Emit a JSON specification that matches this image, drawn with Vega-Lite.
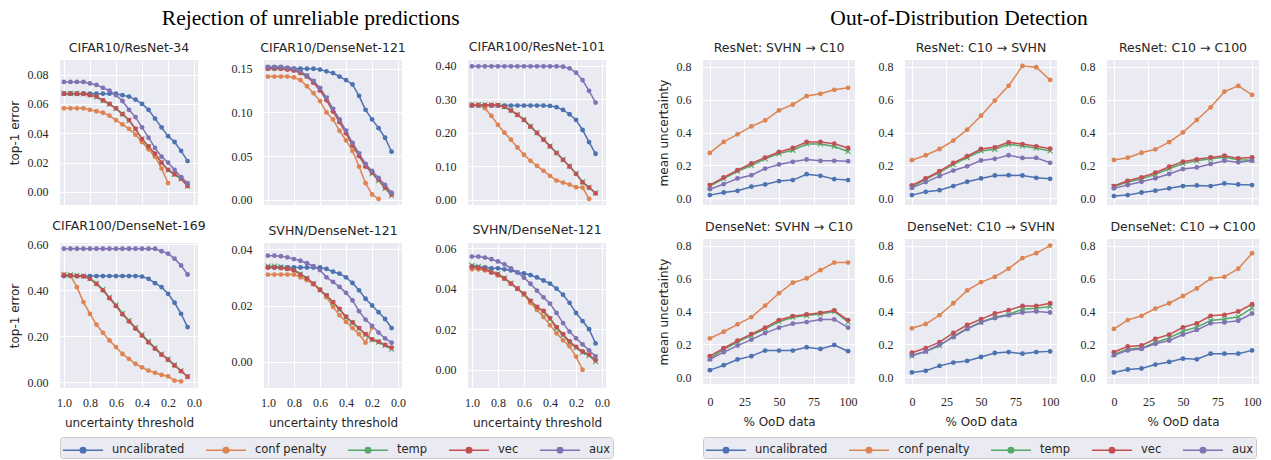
{
"$schema": "https://vega.github.io/schema/vega-lite/v6.json",
"background": "white",
"padding": {"left": 8, "top": 7, "right": 8, "bottom": 1},
"datasets": {
"rej": [
{"p":1,"x":1,"uncalibrated":0.067,"conf penalty":0.057,"temp":0.0672,"vec":0.067,"aux":0.075},
{"p":1,"x":0.95,"uncalibrated":0.067,"conf penalty":0.057,"temp":0.0672,"vec":0.067,"aux":0.075},
{"p":1,"x":0.9,"uncalibrated":0.067,"conf penalty":0.057,"temp":0.0671,"vec":0.067,"aux":0.075},
{"p":1,"x":0.85,"uncalibrated":0.067,"conf penalty":0.057,"temp":0.0668,"vec":0.067,"aux":0.075},
{"p":1,"x":0.8,"uncalibrated":0.067,"conf penalty":0.056,"temp":0.0662,"vec":0.066,"aux":0.074},
{"p":1,"x":0.75,"uncalibrated":0.067,"conf penalty":0.055,"temp":0.0648,"vec":0.065,"aux":0.073},
{"p":1,"x":0.7,"uncalibrated":0.067,"conf penalty":0.054,"temp":0.0622,"vec":0.0625,"aux":0.071},
{"p":1,"x":0.65,"uncalibrated":0.067,"conf penalty":0.052,"temp":0.0598,"vec":0.06,"aux":0.069},
{"p":1,"x":0.6,"uncalibrated":0.067,"conf penalty":0.049,"temp":0.0568,"vec":0.057,"aux":0.066},
{"p":1,"x":0.55,"uncalibrated":0.066,"conf penalty":0.046,"temp":0.0532,"vec":0.053,"aux":0.062},
{"p":1,"x":0.5,"uncalibrated":0.065,"conf penalty":0.043,"temp":0.0488,"vec":0.049,"aux":0.056},
{"p":1,"x":0.45,"uncalibrated":0.063,"conf penalty":0.039,"temp":0.0428,"vec":0.043,"aux":0.051},
{"p":1,"x":0.4,"uncalibrated":0.06,"conf penalty":0.034,"temp":0.0362,"vec":0.036,"aux":0.044},
{"p":1,"x":0.35,"uncalibrated":0.056,"conf penalty":0.029,"temp":0.0308,"vec":0.031,"aux":0.037},
{"p":1,"x":0.3,"uncalibrated":0.05,"conf penalty":0.024,"temp":0.0258,"vec":0.026,"aux":0.03},
{"p":1,"x":0.25,"uncalibrated":0.044,"conf penalty":0.016,"temp":0.0198,"vec":0.02,"aux":0.024},
{"p":1,"x":0.2,"uncalibrated":0.038,"conf penalty":0.006,"temp":0.0148,"vec":0.015,"aux":0.02},
{"p":1,"x":0.15,"uncalibrated":0.034,"conf penalty":null,"temp":0.0118,"vec":0.012,"aux":0.015},
{"p":1,"x":0.1,"uncalibrated":0.028,"conf penalty":null,"temp":0.0088,"vec":0.009,"aux":0.01},
{"p":1,"x":0.05,"uncalibrated":0.021,"conf penalty":null,"temp":0.0038,"vec":0.004,"aux":0.006},
{"p":2,"x":1,"uncalibrated":0.151,"conf penalty":0.141,"temp":0.151,"vec":0.15,"aux":0.152},
{"p":2,"x":0.95,"uncalibrated":0.151,"conf penalty":0.141,"temp":0.151,"vec":0.15,"aux":0.152},
{"p":2,"x":0.9,"uncalibrated":0.151,"conf penalty":0.141,"temp":0.151,"vec":0.15,"aux":0.152},
{"p":2,"x":0.85,"uncalibrated":0.151,"conf penalty":0.141,"temp":0.15,"vec":0.149,"aux":0.151},
{"p":2,"x":0.8,"uncalibrated":0.15,"conf penalty":0.14,"temp":0.149,"vec":0.148,"aux":0.15},
{"p":2,"x":0.75,"uncalibrated":0.15,"conf penalty":0.137,"temp":0.146,"vec":0.145,"aux":0.147},
{"p":2,"x":0.7,"uncalibrated":0.15,"conf penalty":0.13,"temp":0.142,"vec":0.141,"aux":0.142},
{"p":2,"x":0.65,"uncalibrated":0.15,"conf penalty":0.122,"temp":0.135,"vec":0.134,"aux":0.136},
{"p":2,"x":0.6,"uncalibrated":0.149,"conf penalty":0.113,"temp":0.126,"vec":0.125,"aux":0.128},
{"p":2,"x":0.55,"uncalibrated":0.147,"conf penalty":0.1,"temp":0.116,"vec":0.114,"aux":0.117},
{"p":2,"x":0.5,"uncalibrated":0.145,"conf penalty":0.092,"temp":0.103,"vec":0.101,"aux":0.104},
{"p":2,"x":0.45,"uncalibrated":0.141,"conf penalty":0.079,"temp":0.09,"vec":0.089,"aux":0.092},
{"p":2,"x":0.4,"uncalibrated":0.137,"conf penalty":0.068,"temp":0.078,"vec":0.076,"aux":0.079},
{"p":2,"x":0.35,"uncalibrated":0.132,"conf penalty":0.056,"temp":0.063,"vec":0.062,"aux":0.065},
{"p":2,"x":0.3,"uncalibrated":0.119,"conf penalty":0.038,"temp":0.052,"vec":0.05,"aux":0.053},
{"p":2,"x":0.25,"uncalibrated":0.103,"conf penalty":0.019,"temp":0.039,"vec":0.038,"aux":0.041},
{"p":2,"x":0.2,"uncalibrated":0.092,"conf penalty":0.006,"temp":0.03,"vec":0.031,"aux":0.033},
{"p":2,"x":0.15,"uncalibrated":0.082,"conf penalty":0.001,"temp":0.022,"vec":0.023,"aux":0.025},
{"p":2,"x":0.1,"uncalibrated":0.071,"conf penalty":null,"temp":0.013,"vec":0.014,"aux":0.017},
{"p":2,"x":0.05,"uncalibrated":0.055,"conf penalty":null,"temp":0.005,"vec":0.006,"aux":0.008},
{"p":3,"x":1,"uncalibrated":0.281,"conf penalty":0.283,"temp":0.283,"vec":0.282,"aux":0.398},
{"p":3,"x":0.95,"uncalibrated":0.281,"conf penalty":0.283,"temp":0.283,"vec":0.282,"aux":0.398},
{"p":3,"x":0.9,"uncalibrated":0.281,"conf penalty":0.273,"temp":0.283,"vec":0.282,"aux":0.398},
{"p":3,"x":0.85,"uncalibrated":0.281,"conf penalty":0.25,"temp":0.283,"vec":0.282,"aux":0.398},
{"p":3,"x":0.8,"uncalibrated":0.281,"conf penalty":0.223,"temp":0.282,"vec":0.282,"aux":0.398},
{"p":3,"x":0.75,"uncalibrated":0.281,"conf penalty":0.2,"temp":0.278,"vec":0.277,"aux":0.398},
{"p":3,"x":0.7,"uncalibrated":0.281,"conf penalty":0.179,"temp":0.267,"vec":0.266,"aux":0.398},
{"p":3,"x":0.65,"uncalibrated":0.281,"conf penalty":0.156,"temp":0.254,"vec":0.253,"aux":0.398},
{"p":3,"x":0.6,"uncalibrated":0.281,"conf penalty":0.134,"temp":0.239,"vec":0.238,"aux":0.398},
{"p":3,"x":0.55,"uncalibrated":0.281,"conf penalty":0.116,"temp":0.219,"vec":0.218,"aux":0.398},
{"p":3,"x":0.5,"uncalibrated":0.281,"conf penalty":0.101,"temp":0.2,"vec":0.199,"aux":0.398},
{"p":3,"x":0.45,"uncalibrated":0.281,"conf penalty":0.086,"temp":0.18,"vec":0.179,"aux":0.398},
{"p":3,"x":0.4,"uncalibrated":0.28,"conf penalty":0.071,"temp":0.16,"vec":0.159,"aux":0.398},
{"p":3,"x":0.35,"uncalibrated":0.276,"conf penalty":0.057,"temp":0.14,"vec":0.139,"aux":0.398},
{"p":3,"x":0.3,"uncalibrated":0.268,"conf penalty":0.051,"temp":0.12,"vec":0.119,"aux":0.397},
{"p":3,"x":0.25,"uncalibrated":0.255,"conf penalty":0.045,"temp":0.1,"vec":0.099,"aux":0.392},
{"p":3,"x":0.2,"uncalibrated":0.238,"conf penalty":0.037,"temp":0.078,"vec":0.077,"aux":0.379},
{"p":3,"x":0.15,"uncalibrated":0.208,"conf penalty":0.036,"temp":0.053,"vec":0.052,"aux":0.357},
{"p":3,"x":0.1,"uncalibrated":0.172,"conf penalty":0.002,"temp":0.037,"vec":0.036,"aux":0.325},
{"p":3,"x":0.05,"uncalibrated":0.137,"conf penalty":null,"temp":0.02,"vec":0.019,"aux":0.29},
{"p":4,"x":1,"uncalibrated":0.462,"conf penalty":0.468,"temp":0.468,"vec":0.465,"aux":0.581},
{"p":4,"x":0.95,"uncalibrated":0.462,"conf penalty":0.465,"temp":0.467,"vec":0.465,"aux":0.581},
{"p":4,"x":0.9,"uncalibrated":0.462,"conf penalty":0.414,"temp":0.464,"vec":0.462,"aux":0.581},
{"p":4,"x":0.85,"uncalibrated":0.462,"conf penalty":0.349,"temp":0.462,"vec":0.461,"aux":0.581},
{"p":4,"x":0.8,"uncalibrated":0.462,"conf penalty":0.298,"temp":0.452,"vec":0.45,"aux":0.581},
{"p":4,"x":0.75,"uncalibrated":0.462,"conf penalty":0.251,"temp":0.431,"vec":0.428,"aux":0.581},
{"p":4,"x":0.7,"uncalibrated":0.462,"conf penalty":0.215,"temp":0.404,"vec":0.4,"aux":0.581},
{"p":4,"x":0.65,"uncalibrated":0.462,"conf penalty":0.182,"temp":0.37,"vec":0.366,"aux":0.581},
{"p":4,"x":0.6,"uncalibrated":0.462,"conf penalty":0.153,"temp":0.336,"vec":0.332,"aux":0.581},
{"p":4,"x":0.55,"uncalibrated":0.462,"conf penalty":0.123,"temp":0.3,"vec":0.296,"aux":0.581},
{"p":4,"x":0.5,"uncalibrated":0.462,"conf penalty":0.102,"temp":0.269,"vec":0.265,"aux":0.581},
{"p":4,"x":0.45,"uncalibrated":0.462,"conf penalty":0.08,"temp":0.238,"vec":0.234,"aux":0.581},
{"p":4,"x":0.4,"uncalibrated":0.46,"conf penalty":0.065,"temp":0.207,"vec":0.203,"aux":0.581},
{"p":4,"x":0.35,"uncalibrated":0.45,"conf penalty":0.051,"temp":0.178,"vec":0.174,"aux":0.581},
{"p":4,"x":0.3,"uncalibrated":0.431,"conf penalty":0.041,"temp":0.15,"vec":0.146,"aux":0.581},
{"p":4,"x":0.25,"uncalibrated":0.414,"conf penalty":0.032,"temp":0.123,"vec":0.12,"aux":0.57},
{"p":4,"x":0.2,"uncalibrated":0.385,"conf penalty":0.026,"temp":0.101,"vec":0.098,"aux":0.56},
{"p":4,"x":0.15,"uncalibrated":0.346,"conf penalty":0.007,"temp":0.076,"vec":0.073,"aux":0.538},
{"p":4,"x":0.1,"uncalibrated":0.298,"conf penalty":0.004,"temp":0.05,"vec":0.048,"aux":0.508},
{"p":4,"x":0.05,"uncalibrated":0.24,"conf penalty":null,"temp":0.025,"vec":0.024,"aux":0.469},
{"p":5,"x":1,"uncalibrated":0.0335,"conf penalty":0.031,"temp":0.034,"vec":0.0335,"aux":0.0377},
{"p":5,"x":0.95,"uncalibrated":0.0335,"conf penalty":0.031,"temp":0.034,"vec":0.0335,"aux":0.0377},
{"p":5,"x":0.9,"uncalibrated":0.0335,"conf penalty":0.031,"temp":0.0337,"vec":0.0333,"aux":0.0375},
{"p":5,"x":0.85,"uncalibrated":0.0335,"conf penalty":0.031,"temp":0.0333,"vec":0.033,"aux":0.0371},
{"p":5,"x":0.8,"uncalibrated":0.0335,"conf penalty":0.031,"temp":0.0327,"vec":0.0325,"aux":0.0365},
{"p":5,"x":0.75,"uncalibrated":0.0335,"conf penalty":0.03,"temp":0.0312,"vec":0.031,"aux":0.0359},
{"p":5,"x":0.7,"uncalibrated":0.0335,"conf penalty":0.029,"temp":0.0297,"vec":0.0296,"aux":0.035},
{"p":5,"x":0.65,"uncalibrated":0.0335,"conf penalty":0.0275,"temp":0.0278,"vec":0.0278,"aux":0.034},
{"p":5,"x":0.6,"uncalibrated":0.0335,"conf penalty":0.0255,"temp":0.0255,"vec":0.0256,"aux":0.0326},
{"p":5,"x":0.55,"uncalibrated":0.033,"conf penalty":0.023,"temp":0.0234,"vec":0.0236,"aux":0.03},
{"p":5,"x":0.5,"uncalibrated":0.032,"conf penalty":0.0195,"temp":0.021,"vec":0.0212,"aux":0.0284},
{"p":5,"x":0.45,"uncalibrated":0.0313,"conf penalty":0.0165,"temp":0.0185,"vec":0.0188,"aux":0.0266},
{"p":5,"x":0.4,"uncalibrated":0.03,"conf penalty":0.0142,"temp":0.0158,"vec":0.016,"aux":0.0245},
{"p":5,"x":0.35,"uncalibrated":0.028,"conf penalty":0.012,"temp":0.0138,"vec":0.014,"aux":0.0218},
{"p":5,"x":0.3,"uncalibrated":0.0254,"conf penalty":0.0098,"temp":0.0118,"vec":0.012,"aux":0.018},
{"p":5,"x":0.25,"uncalibrated":0.0224,"conf penalty":0.0068,"temp":0.0096,"vec":0.0098,"aux":0.015},
{"p":5,"x":0.2,"uncalibrated":0.02,"conf penalty":0.0122,"temp":0.0078,"vec":0.008,"aux":0.0128},
{"p":5,"x":0.15,"uncalibrated":0.0176,"conf penalty":null,"temp":0.007,"vec":0.0072,"aux":0.0104},
{"p":5,"x":0.1,"uncalibrated":0.0152,"conf penalty":null,"temp":0.0058,"vec":0.006,"aux":0.0083},
{"p":5,"x":0.05,"uncalibrated":0.012,"conf penalty":null,"temp":0.0045,"vec":0.005,"aux":0.0068},
{"p":6,"x":1,"uncalibrated":0.051,"conf penalty":0.0495,"temp":0.0515,"vec":0.0507,"aux":0.0558},
{"p":6,"x":0.95,"uncalibrated":0.0505,"conf penalty":0.0495,"temp":0.051,"vec":0.0503,"aux":0.0558},
{"p":6,"x":0.9,"uncalibrated":0.0505,"conf penalty":0.049,"temp":0.05,"vec":0.0495,"aux":0.0553},
{"p":6,"x":0.85,"uncalibrated":0.05,"conf penalty":0.048,"temp":0.0485,"vec":0.048,"aux":0.0545},
{"p":6,"x":0.8,"uncalibrated":0.05,"conf penalty":0.0465,"temp":0.0473,"vec":0.047,"aux":0.0534},
{"p":6,"x":0.75,"uncalibrated":0.0495,"conf penalty":0.045,"temp":0.0452,"vec":0.045,"aux":0.052},
{"p":6,"x":0.7,"uncalibrated":0.049,"conf penalty":0.0425,"temp":0.0427,"vec":0.0425,"aux":0.05},
{"p":6,"x":0.65,"uncalibrated":0.048,"conf penalty":0.04,"temp":0.04,"vec":0.04,"aux":0.048},
{"p":6,"x":0.6,"uncalibrated":0.0475,"conf penalty":0.037,"temp":0.0373,"vec":0.0375,"aux":0.0454},
{"p":6,"x":0.55,"uncalibrated":0.0467,"conf penalty":0.033,"temp":0.0338,"vec":0.034,"aux":0.0424},
{"p":6,"x":0.5,"uncalibrated":0.0455,"conf penalty":0.0295,"temp":0.0308,"vec":0.031,"aux":0.039},
{"p":6,"x":0.45,"uncalibrated":0.044,"conf penalty":0.026,"temp":0.0285,"vec":0.029,"aux":0.0357},
{"p":6,"x":0.4,"uncalibrated":0.0425,"conf penalty":0.022,"temp":0.025,"vec":0.0255,"aux":0.0326},
{"p":6,"x":0.35,"uncalibrated":0.04,"conf penalty":0.018,"temp":0.0205,"vec":0.021,"aux":0.028},
{"p":6,"x":0.3,"uncalibrated":0.037,"conf penalty":0.0145,"temp":0.017,"vec":0.0175,"aux":0.023},
{"p":6,"x":0.25,"uncalibrated":0.033,"conf penalty":0.0115,"temp":0.0135,"vec":0.014,"aux":0.0188},
{"p":6,"x":0.2,"uncalibrated":0.028,"conf penalty":0.0065,"temp":0.0108,"vec":0.0113,"aux":0.0155},
{"p":6,"x":0.15,"uncalibrated":0.024,"conf penalty":0.0,"temp":0.0085,"vec":0.009,"aux":0.0125},
{"p":6,"x":0.1,"uncalibrated":0.02,"conf penalty":null,"temp":0.007,"vec":0.0075,"aux":0.0096},
{"p":6,"x":0.05,"uncalibrated":0.013,"conf penalty":null,"temp":0.004,"vec":0.0047,"aux":0.0066}
],
"ood": [
{"p":1,"x":0,"uncalibrated":0.02,"conf penalty":0.276,"temp":0.075,"vec":0.081,"aux":0.056},
{"p":1,"x":10,"uncalibrated":0.036,"conf penalty":0.343,"temp":0.12,"vec":0.127,"aux":0.087},
{"p":1,"x":20,"uncalibrated":0.046,"conf penalty":0.389,"temp":0.165,"vec":0.171,"aux":0.121},
{"p":1,"x":30,"uncalibrated":0.071,"conf penalty":0.437,"temp":0.2,"vec":0.212,"aux":0.141},
{"p":1,"x":40,"uncalibrated":0.085,"conf penalty":0.474,"temp":0.24,"vec":0.248,"aux":0.181},
{"p":1,"x":50,"uncalibrated":0.105,"conf penalty":0.534,"temp":0.272,"vec":0.282,"aux":0.206},
{"p":1,"x":60,"uncalibrated":0.111,"conf penalty":0.57,"temp":0.292,"vec":0.306,"aux":0.222},
{"p":1,"x":70,"uncalibrated":0.147,"conf penalty":0.621,"temp":0.33,"vec":0.343,"aux":0.236},
{"p":1,"x":80,"uncalibrated":0.137,"conf penalty":0.635,"temp":0.33,"vec":0.343,"aux":0.228},
{"p":1,"x":90,"uncalibrated":0.117,"conf penalty":0.659,"temp":0.315,"vec":0.332,"aux":0.228},
{"p":1,"x":100,"uncalibrated":0.111,"conf penalty":0.671,"temp":0.285,"vec":0.306,"aux":0.226},
{"p":2,"x":0,"uncalibrated":0.02,"conf penalty":0.232,"temp":0.07,"vec":0.079,"aux":0.064},
{"p":2,"x":10,"uncalibrated":0.04,"conf penalty":0.262,"temp":0.115,"vec":0.121,"aux":0.099},
{"p":2,"x":20,"uncalibrated":0.05,"conf penalty":0.3,"temp":0.158,"vec":0.165,"aux":0.135},
{"p":2,"x":30,"uncalibrated":0.075,"conf penalty":0.351,"temp":0.205,"vec":0.216,"aux":0.169},
{"p":2,"x":40,"uncalibrated":0.101,"conf penalty":0.417,"temp":0.248,"vec":0.256,"aux":0.195},
{"p":2,"x":50,"uncalibrated":0.121,"conf penalty":0.502,"temp":0.288,"vec":0.3,"aux":0.23},
{"p":2,"x":60,"uncalibrated":0.139,"conf penalty":0.594,"temp":0.298,"vec":0.31,"aux":0.24},
{"p":2,"x":70,"uncalibrated":0.141,"conf penalty":0.683,"temp":0.328,"vec":0.34,"aux":0.262},
{"p":2,"x":80,"uncalibrated":0.139,"conf penalty":0.804,"temp":0.318,"vec":0.33,"aux":0.246},
{"p":2,"x":90,"uncalibrated":0.125,"conf penalty":0.796,"temp":0.305,"vec":0.316,"aux":0.246},
{"p":2,"x":100,"uncalibrated":0.119,"conf penalty":0.719,"temp":0.288,"vec":0.302,"aux":0.216},
{"p":3,"x":0,"uncalibrated":0.014,"conf penalty":0.233,"temp":0.072,"vec":0.075,"aux":0.061},
{"p":3,"x":10,"uncalibrated":0.02,"conf penalty":0.247,"temp":0.1,"vec":0.107,"aux":0.081},
{"p":3,"x":20,"uncalibrated":0.036,"conf penalty":0.277,"temp":0.118,"vec":0.128,"aux":0.101},
{"p":3,"x":30,"uncalibrated":0.047,"conf penalty":0.298,"temp":0.146,"vec":0.156,"aux":0.122},
{"p":3,"x":40,"uncalibrated":0.061,"conf penalty":0.342,"temp":0.18,"vec":0.192,"aux":0.148},
{"p":3,"x":50,"uncalibrated":0.075,"conf penalty":0.401,"temp":0.212,"vec":0.223,"aux":0.178},
{"p":3,"x":60,"uncalibrated":0.079,"conf penalty":0.476,"temp":0.228,"vec":0.237,"aux":0.188},
{"p":3,"x":70,"uncalibrated":0.075,"conf penalty":0.553,"temp":0.24,"vec":0.249,"aux":0.209},
{"p":3,"x":80,"uncalibrated":0.091,"conf penalty":0.648,"temp":0.25,"vec":0.259,"aux":0.229},
{"p":3,"x":90,"uncalibrated":0.085,"conf penalty":0.683,"temp":0.235,"vec":0.243,"aux":0.219},
{"p":3,"x":100,"uncalibrated":0.081,"conf penalty":0.628,"temp":0.232,"vec":0.249,"aux":0.229},
{"p":4,"x":0,"uncalibrated":0.044,"conf penalty":0.237,"temp":0.115,"vec":0.129,"aux":0.109},
{"p":4,"x":10,"uncalibrated":0.074,"conf penalty":0.277,"temp":0.17,"vec":0.177,"aux":0.153},
{"p":4,"x":20,"uncalibrated":0.109,"conf penalty":0.322,"temp":0.215,"vec":0.223,"aux":0.193},
{"p":4,"x":30,"uncalibrated":0.129,"conf penalty":0.366,"temp":0.255,"vec":0.263,"aux":0.229},
{"p":4,"x":40,"uncalibrated":0.163,"conf penalty":0.436,"temp":0.295,"vec":0.302,"aux":0.269},
{"p":4,"x":50,"uncalibrated":0.163,"conf penalty":0.511,"temp":0.338,"vec":0.348,"aux":0.302},
{"p":4,"x":60,"uncalibrated":0.163,"conf penalty":0.575,"temp":0.365,"vec":0.372,"aux":0.326},
{"p":4,"x":70,"uncalibrated":0.183,"conf penalty":0.601,"temp":0.375,"vec":0.382,"aux":0.336},
{"p":4,"x":80,"uncalibrated":0.173,"conf penalty":0.651,"temp":0.385,"vec":0.392,"aux":0.352},
{"p":4,"x":90,"uncalibrated":0.197,"conf penalty":0.697,"temp":0.4,"vec":0.406,"aux":0.352},
{"p":4,"x":100,"uncalibrated":0.159,"conf penalty":0.697,"temp":0.335,"vec":0.348,"aux":0.302},
{"p":5,"x":0,"uncalibrated":0.03,"conf penalty":0.298,"temp":0.13,"vec":0.15,"aux":0.134},
{"p":5,"x":10,"uncalibrated":0.04,"conf penalty":0.324,"temp":0.158,"vec":0.178,"aux":0.158},
{"p":5,"x":20,"uncalibrated":0.07,"conf penalty":0.378,"temp":0.192,"vec":0.214,"aux":0.198},
{"p":5,"x":30,"uncalibrated":0.09,"conf penalty":0.45,"temp":0.25,"vec":0.27,"aux":0.244},
{"p":5,"x":40,"uncalibrated":0.1,"conf penalty":0.528,"temp":0.298,"vec":0.318,"aux":0.294},
{"p":5,"x":50,"uncalibrated":0.124,"conf penalty":0.578,"temp":0.336,"vec":0.354,"aux":0.334},
{"p":5,"x":60,"uncalibrated":0.148,"conf penalty":0.61,"temp":0.366,"vec":0.388,"aux":0.36},
{"p":5,"x":70,"uncalibrated":0.154,"conf penalty":0.66,"temp":0.382,"vec":0.408,"aux":0.378},
{"p":5,"x":80,"uncalibrated":0.144,"conf penalty":0.724,"temp":0.414,"vec":0.434,"aux":0.394},
{"p":5,"x":90,"uncalibrated":0.154,"conf penalty":0.754,"temp":0.42,"vec":0.434,"aux":0.4},
{"p":5,"x":100,"uncalibrated":0.158,"conf penalty":0.8,"temp":0.43,"vec":0.45,"aux":0.394},
{"p":6,"x":0,"uncalibrated":0.03,"conf penalty":0.294,"temp":0.14,"vec":0.154,"aux":0.134},
{"p":6,"x":10,"uncalibrated":0.048,"conf penalty":0.348,"temp":0.172,"vec":0.188,"aux":0.164},
{"p":6,"x":20,"uncalibrated":0.054,"conf penalty":0.374,"temp":0.178,"vec":0.194,"aux":0.174},
{"p":6,"x":30,"uncalibrated":0.078,"conf penalty":0.418,"temp":0.212,"vec":0.234,"aux":0.204},
{"p":6,"x":40,"uncalibrated":0.094,"conf penalty":0.45,"temp":0.24,"vec":0.26,"aux":0.224},
{"p":6,"x":50,"uncalibrated":0.114,"conf penalty":0.494,"temp":0.28,"vec":0.304,"aux":0.26},
{"p":6,"x":60,"uncalibrated":0.11,"conf penalty":0.54,"temp":0.305,"vec":0.328,"aux":0.288},
{"p":6,"x":70,"uncalibrated":0.144,"conf penalty":0.6,"temp":0.345,"vec":0.374,"aux":0.328},
{"p":6,"x":80,"uncalibrated":0.144,"conf penalty":0.61,"temp":0.355,"vec":0.38,"aux":0.334},
{"p":6,"x":90,"uncalibrated":0.144,"conf penalty":0.66,"temp":0.368,"vec":0.4,"aux":0.344},
{"p":6,"x":100,"uncalibrated":0.164,"conf penalty":0.754,"temp":0.42,"vec":0.444,"aux":0.388}
]
},
"config": {
"view": {"fill": "#eaeaf2", "stroke": null},
"font": "DejaVu Sans",
"axis": {"domain": false, "ticks": false, "grid": true, "gridColor": "#ffffff", "gridWidth": 1, "gridOpacity": 1, "labelFont": "Liberation Serif", "labelFontSize": 12, "labelColor": "#262626", "titleFont": "DejaVu Sans", "titleFontSize": 12, "titleFontWeight": "normal", "titleColor": "#262626"},
"axisX": {"labelPadding": 9, "titlePadding": 9, "labelFlush": false},
"axisY": {"labelPadding": 12, "titlePadding": 6},
"title": {"font": "DejaVu Sans", "fontSize": 12.5, "fontWeight": "normal", "color": "#262626", "offset": 6},
"legend": {"orient": "bottom", "direction": "horizontal", "offset": 9, "symbolType": "M-2,0L2,0M0.27,0A0.27,0.27,0,1,1,-0.27,0A0.27,0.27,0,1,1,0.27,0", "symbolSize": 400, "symbolOffset": 10, "symbolStrokeWidth": 1.5, "labelFont": "DejaVu Sans", "labelFontSize": 11.5, "labelColor": "#262626", "labelOffset": 18, "columnPadding": 18, "padding": 2, "fillColor": "#eaeaf2", "strokeColor": "#cccccc", "cornerRadius": 3}
},
"resolve": {"scale": {"color": "independent"}, "legend": {"color": "independent"}},
"spacing": 43,
"hconcat": [
{
"title": {"text": "Rejection of unreliable predictions", "font": "Liberation Serif", "fontSize": 21.5, "anchor": "middle", "color": "#000000", "offset": 12},
"spacing": 13,
"vconcat": [
{"bounds": "flush", "spacing": 66, "hconcat": [
{"title": "CIFAR10/ResNet-34", "width": 138, "height": 145, "data": {"name": "rej"},
 "transform": [{"filter": "datum.p == 1"}, {"fold": ["uncalibrated","conf penalty","temp","vec","aux"], "as": ["s","y"]}],
 "encoding": {
  "x": {"field": "x", "type": "quantitative", "scale": {"domain": [-0.03, 1.03], "reverse": true, "nice": false, "zero": false}, "axis": {"values": [0,0.2,0.4,0.6,0.8,1], "labels": false, "title": null}},
  "y": {"field": "y", "type": "quantitative", "scale": {"domain": [-0.009, 0.09], "nice": false, "zero": false}, "axis": {"values": [0,0.02,0.04,0.06,0.08], "format": ".2f", "title": "top-1 error"}},
  "color": {"field": "s", "type": "nominal", "scale": {"domain": ["uncalibrated","conf penalty","temp","vec","aux"], "range": ["#4c72b0","#dd8452","#55a868","#c44e52","#8172b3"]}, "legend": {"title": null}}
 },
 "layer": [
  {"mark": {"type": "line", "strokeWidth": 1.5}},
  {"transform": [{"filter": "datum.s == 'temp'"}], "mark": {"type": "point", "shape": "M-1,-1L1,1M-1,1L1,-1", "filled": false, "size": 24, "strokeWidth": 1.1, "opacity": 1}},
  {"transform": [{"filter": "datum.s != 'temp'"}], "mark": {"type": "point", "shape": "circle", "filled": true, "size": 23, "opacity": 1}}
 ]
},
{"title": "CIFAR10/DenseNet-121", "width": 138, "height": 145, "data": {"name": "rej"},
 "transform": [{"filter": "datum.p == 2"}, {"fold": ["uncalibrated","conf penalty","temp","vec","aux"], "as": ["s","y"]}],
 "encoding": {
  "x": {"field": "x", "type": "quantitative", "scale": {"domain": [-0.03, 1.03], "reverse": true, "nice": false, "zero": false}, "axis": {"values": [0,0.2,0.4,0.6,0.8,1], "labels": false, "title": null}},
  "y": {"field": "y", "type": "quantitative", "scale": {"domain": [-0.006, 0.16], "nice": false, "zero": false}, "axis": {"values": [0,0.05,0.1,0.15], "format": ".2f", "title": null}},
  "color": {"field": "s", "type": "nominal", "scale": {"domain": ["uncalibrated","conf penalty","temp","vec","aux"], "range": ["#4c72b0","#dd8452","#55a868","#c44e52","#8172b3"]}, "legend": {"title": null}}
 },
 "layer": [
  {"mark": {"type": "line", "strokeWidth": 1.5}},
  {"transform": [{"filter": "datum.s == 'temp'"}], "mark": {"type": "point", "shape": "M-1,-1L1,1M-1,1L1,-1", "filled": false, "size": 24, "strokeWidth": 1.1, "opacity": 1}},
  {"transform": [{"filter": "datum.s != 'temp'"}], "mark": {"type": "point", "shape": "circle", "filled": true, "size": 23, "opacity": 1}}
 ]
},
{"title": "CIFAR100/ResNet-101", "width": 138, "height": 145, "data": {"name": "rej"},
 "transform": [{"filter": "datum.p == 3"}, {"fold": ["uncalibrated","conf penalty","temp","vec","aux"], "as": ["s","y"]}],
 "encoding": {
  "x": {"field": "x", "type": "quantitative", "scale": {"domain": [-0.03, 1.03], "reverse": true, "nice": false, "zero": false}, "axis": {"values": [0,0.2,0.4,0.6,0.8,1], "labels": false, "title": null}},
  "y": {"field": "y", "type": "quantitative", "scale": {"domain": [-0.016, 0.417], "nice": false, "zero": false}, "axis": {"values": [0,0.1,0.2,0.3,0.4], "format": ".2f", "title": null}},
  "color": {"field": "s", "type": "nominal", "scale": {"domain": ["uncalibrated","conf penalty","temp","vec","aux"], "range": ["#4c72b0","#dd8452","#55a868","#c44e52","#8172b3"]}, "legend": {"title": null}}
 },
 "layer": [
  {"mark": {"type": "line", "strokeWidth": 1.5}},
  {"transform": [{"filter": "datum.s == 'temp'"}], "mark": {"type": "point", "shape": "M-1,-1L1,1M-1,1L1,-1", "filled": false, "size": 24, "strokeWidth": 1.1, "opacity": 1}},
  {"transform": [{"filter": "datum.s != 'temp'"}], "mark": {"type": "point", "shape": "circle", "filled": true, "size": 23, "opacity": 1}}
 ]
}
]},
{"bounds": "flush", "spacing": 66, "hconcat": [
{"title": "CIFAR100/DenseNet-169", "width": 138, "height": 145, "data": {"name": "rej"},
 "transform": [{"filter": "datum.p == 4"}, {"fold": ["uncalibrated","conf penalty","temp","vec","aux"], "as": ["s","y"]}],
 "encoding": {
  "x": {"field": "x", "type": "quantitative", "scale": {"domain": [-0.03, 1.03], "reverse": true, "nice": false, "zero": false}, "axis": {"values": [0,0.2,0.4,0.6,0.8,1], "format": ".1f", "title": "uncertainty threshold"}},
  "y": {"field": "y", "type": "quantitative", "scale": {"domain": [-0.025, 0.606], "nice": false, "zero": false}, "axis": {"values": [0,0.2,0.4,0.6], "format": ".2f", "title": "top-1 error"}},
  "color": {"field": "s", "type": "nominal", "scale": {"domain": ["uncalibrated","conf penalty","temp","vec","aux"], "range": ["#4c72b0","#dd8452","#55a868","#c44e52","#8172b3"]}, "legend": {"title": null}}
 },
 "layer": [
  {"mark": {"type": "line", "strokeWidth": 1.5}},
  {"transform": [{"filter": "datum.s == 'temp'"}], "mark": {"type": "point", "shape": "M-1,-1L1,1M-1,1L1,-1", "filled": false, "size": 24, "strokeWidth": 1.1, "opacity": 1}},
  {"transform": [{"filter": "datum.s != 'temp'"}], "mark": {"type": "point", "shape": "circle", "filled": true, "size": 23, "opacity": 1}}
 ]
},
{"title": "SVHN/DenseNet-121", "width": 138, "height": 145, "data": {"name": "rej"},
 "transform": [{"filter": "datum.p == 5"}, {"fold": ["uncalibrated","conf penalty","temp","vec","aux"], "as": ["s","y"]}],
 "encoding": {
  "x": {"field": "x", "type": "quantitative", "scale": {"domain": [-0.03, 1.03], "reverse": true, "nice": false, "zero": false}, "axis": {"values": [0,0.2,0.4,0.6,0.8,1], "format": ".1f", "title": "uncertainty threshold"}},
  "y": {"field": "y", "type": "quantitative", "scale": {"domain": [-0.0093, 0.0422], "nice": false, "zero": false}, "axis": {"values": [0,0.02,0.04], "format": ".2f", "title": null}},
  "color": {"field": "s", "type": "nominal", "scale": {"domain": ["uncalibrated","conf penalty","temp","vec","aux"], "range": ["#4c72b0","#dd8452","#55a868","#c44e52","#8172b3"]}, "legend": {"title": null}}
 },
 "layer": [
  {"mark": {"type": "line", "strokeWidth": 1.5}},
  {"transform": [{"filter": "datum.s == 'temp'"}], "mark": {"type": "point", "shape": "M-1,-1L1,1M-1,1L1,-1", "filled": false, "size": 24, "strokeWidth": 1.1, "opacity": 1}},
  {"transform": [{"filter": "datum.s != 'temp'"}], "mark": {"type": "point", "shape": "circle", "filled": true, "size": 23, "opacity": 1}}
 ]
},
{"title": "SVHN/DenseNet-121", "width": 138, "height": 145, "data": {"name": "rej"},
 "transform": [{"filter": "datum.p == 6"}, {"fold": ["uncalibrated","conf penalty","temp","vec","aux"], "as": ["s","y"]}],
 "encoding": {
  "x": {"field": "x", "type": "quantitative", "scale": {"domain": [-0.03, 1.03], "reverse": true, "nice": false, "zero": false}, "axis": {"values": [0,0.2,0.4,0.6,0.8,1], "format": ".1f", "title": "uncertainty threshold"}},
  "y": {"field": "y", "type": "quantitative", "scale": {"domain": [-0.009, 0.0625], "nice": false, "zero": false}, "axis": {"values": [0,0.02,0.04,0.06], "format": ".2f", "title": null}},
  "color": {"field": "s", "type": "nominal", "scale": {"domain": ["uncalibrated","conf penalty","temp","vec","aux"], "range": ["#4c72b0","#dd8452","#55a868","#c44e52","#8172b3"]}, "legend": {"title": null}}
 },
 "layer": [
  {"mark": {"type": "line", "strokeWidth": 1.5}},
  {"transform": [{"filter": "datum.s == 'temp'"}], "mark": {"type": "point", "shape": "M-1,-1L1,1M-1,1L1,-1", "filled": false, "size": 24, "strokeWidth": 1.1, "opacity": 1}},
  {"transform": [{"filter": "datum.s != 'temp'"}], "mark": {"type": "point", "shape": "circle", "filled": true, "size": 23, "opacity": 1}}
 ]
}
]}
]
},
{
"title": {"text": "Out-of-Distribution Detection", "font": "Liberation Serif", "fontSize": 21.5, "anchor": "middle", "color": "#000000", "offset": 12},
"spacing": 15,
"vconcat": [
{"bounds": "flush", "spacing": 50, "hconcat": [
{"title": "ResNet: SVHN → C10", "width": 152, "height": 145, "data": {"name": "ood"},
 "transform": [{"filter": "datum.p == 1"}, {"fold": ["uncalibrated","conf penalty","temp","vec","aux"], "as": ["s","y"]}],
 "encoding": {
  "x": {"field": "x", "type": "quantitative", "scale": {"domain": [-5, 105], "nice": false, "zero": false}, "axis": {"values": [0,25,50,75,100], "labels": false, "title": null}},
  "y": {"field": "y", "type": "quantitative", "scale": {"domain": [-0.04, 0.84], "nice": false, "zero": false}, "axis": {"values": [0,0.2,0.4,0.6,0.8], "format": ".1f", "title": "mean uncertainty"}},
  "color": {"field": "s", "type": "nominal", "scale": {"domain": ["uncalibrated","conf penalty","temp","vec","aux"], "range": ["#4c72b0","#dd8452","#55a868","#c44e52","#8172b3"]}, "legend": {"title": null, "offset": 10}}
 },
 "layer": [
  {"mark": {"type": "line", "strokeWidth": 1.5}},
  {"transform": [{"filter": "datum.s == 'temp'"}], "mark": {"type": "point", "shape": "M-1,-1L1,1M-1,1L1,-1", "filled": false, "size": 24, "strokeWidth": 1.1, "opacity": 1}},
  {"transform": [{"filter": "datum.s != 'temp'"}], "mark": {"type": "point", "shape": "circle", "filled": true, "size": 23, "opacity": 1}}
 ]
},
{"title": "ResNet: C10 → SVHN", "width": 152, "height": 145, "data": {"name": "ood"},
 "transform": [{"filter": "datum.p == 2"}, {"fold": ["uncalibrated","conf penalty","temp","vec","aux"], "as": ["s","y"]}],
 "encoding": {
  "x": {"field": "x", "type": "quantitative", "scale": {"domain": [-5, 105], "nice": false, "zero": false}, "axis": {"values": [0,25,50,75,100], "labels": false, "title": null}},
  "y": {"field": "y", "type": "quantitative", "scale": {"domain": [-0.04, 0.84], "nice": false, "zero": false}, "axis": {"values": [0,0.2,0.4,0.6,0.8], "format": ".1f", "title": null}},
  "color": {"field": "s", "type": "nominal", "scale": {"domain": ["uncalibrated","conf penalty","temp","vec","aux"], "range": ["#4c72b0","#dd8452","#55a868","#c44e52","#8172b3"]}, "legend": {"title": null, "offset": 10}}
 },
 "layer": [
  {"mark": {"type": "line", "strokeWidth": 1.5}},
  {"transform": [{"filter": "datum.s == 'temp'"}], "mark": {"type": "point", "shape": "M-1,-1L1,1M-1,1L1,-1", "filled": false, "size": 24, "strokeWidth": 1.1, "opacity": 1}},
  {"transform": [{"filter": "datum.s != 'temp'"}], "mark": {"type": "point", "shape": "circle", "filled": true, "size": 23, "opacity": 1}}
 ]
},
{"title": "ResNet: C10 → C100", "width": 152, "height": 145, "data": {"name": "ood"},
 "transform": [{"filter": "datum.p == 3"}, {"fold": ["uncalibrated","conf penalty","temp","vec","aux"], "as": ["s","y"]}],
 "encoding": {
  "x": {"field": "x", "type": "quantitative", "scale": {"domain": [-5, 105], "nice": false, "zero": false}, "axis": {"values": [0,25,50,75,100], "labels": false, "title": null}},
  "y": {"field": "y", "type": "quantitative", "scale": {"domain": [-0.04, 0.84], "nice": false, "zero": false}, "axis": {"values": [0,0.2,0.4,0.6,0.8], "format": ".1f", "title": null}},
  "color": {"field": "s", "type": "nominal", "scale": {"domain": ["uncalibrated","conf penalty","temp","vec","aux"], "range": ["#4c72b0","#dd8452","#55a868","#c44e52","#8172b3"]}, "legend": {"title": null, "offset": 10}}
 },
 "layer": [
  {"mark": {"type": "line", "strokeWidth": 1.5}},
  {"transform": [{"filter": "datum.s == 'temp'"}], "mark": {"type": "point", "shape": "M-1,-1L1,1M-1,1L1,-1", "filled": false, "size": 24, "strokeWidth": 1.1, "opacity": 1}},
  {"transform": [{"filter": "datum.s != 'temp'"}], "mark": {"type": "point", "shape": "circle", "filled": true, "size": 23, "opacity": 1}}
 ]
}
]},
{"bounds": "flush", "spacing": 50, "hconcat": [
{"title": "DenseNet: SVHN → C10", "width": 152, "height": 145, "data": {"name": "ood"},
 "transform": [{"filter": "datum.p == 4"}, {"fold": ["uncalibrated","conf penalty","temp","vec","aux"], "as": ["s","y"]}],
 "encoding": {
  "x": {"field": "x", "type": "quantitative", "scale": {"domain": [-5, 105], "nice": false, "zero": false}, "axis": {"values": [0,25,50,75,100], "title": "% OoD data", "labelPadding": 12}},
  "y": {"field": "y", "type": "quantitative", "scale": {"domain": [-0.04, 0.84], "nice": false, "zero": false}, "axis": {"values": [0,0.2,0.4,0.6,0.8], "format": ".1f", "title": "mean uncertainty"}},
  "color": {"field": "s", "type": "nominal", "scale": {"domain": ["uncalibrated","conf penalty","temp","vec","aux"], "range": ["#4c72b0","#dd8452","#55a868","#c44e52","#8172b3"]}, "legend": {"title": null, "offset": 10}}
 },
 "layer": [
  {"mark": {"type": "line", "strokeWidth": 1.5}},
  {"transform": [{"filter": "datum.s == 'temp'"}], "mark": {"type": "point", "shape": "M-1,-1L1,1M-1,1L1,-1", "filled": false, "size": 24, "strokeWidth": 1.1, "opacity": 1}},
  {"transform": [{"filter": "datum.s != 'temp'"}], "mark": {"type": "point", "shape": "circle", "filled": true, "size": 23, "opacity": 1}}
 ]
},
{"title": "DenseNet: C10 → SVHN", "width": 152, "height": 145, "data": {"name": "ood"},
 "transform": [{"filter": "datum.p == 5"}, {"fold": ["uncalibrated","conf penalty","temp","vec","aux"], "as": ["s","y"]}],
 "encoding": {
  "x": {"field": "x", "type": "quantitative", "scale": {"domain": [-5, 105], "nice": false, "zero": false}, "axis": {"values": [0,25,50,75,100], "title": "% OoD data", "labelPadding": 12}},
  "y": {"field": "y", "type": "quantitative", "scale": {"domain": [-0.04, 0.84], "nice": false, "zero": false}, "axis": {"values": [0,0.2,0.4,0.6,0.8], "format": ".1f", "title": null}},
  "color": {"field": "s", "type": "nominal", "scale": {"domain": ["uncalibrated","conf penalty","temp","vec","aux"], "range": ["#4c72b0","#dd8452","#55a868","#c44e52","#8172b3"]}, "legend": {"title": null, "offset": 10}}
 },
 "layer": [
  {"mark": {"type": "line", "strokeWidth": 1.5}},
  {"transform": [{"filter": "datum.s == 'temp'"}], "mark": {"type": "point", "shape": "M-1,-1L1,1M-1,1L1,-1", "filled": false, "size": 24, "strokeWidth": 1.1, "opacity": 1}},
  {"transform": [{"filter": "datum.s != 'temp'"}], "mark": {"type": "point", "shape": "circle", "filled": true, "size": 23, "opacity": 1}}
 ]
},
{"title": "DenseNet: C10 → C100", "width": 152, "height": 145, "data": {"name": "ood"},
 "transform": [{"filter": "datum.p == 6"}, {"fold": ["uncalibrated","conf penalty","temp","vec","aux"], "as": ["s","y"]}],
 "encoding": {
  "x": {"field": "x", "type": "quantitative", "scale": {"domain": [-5, 105], "nice": false, "zero": false}, "axis": {"values": [0,25,50,75,100], "title": "% OoD data", "labelPadding": 12}},
  "y": {"field": "y", "type": "quantitative", "scale": {"domain": [-0.04, 0.84], "nice": false, "zero": false}, "axis": {"values": [0,0.2,0.4,0.6,0.8], "format": ".1f", "title": null}},
  "color": {"field": "s", "type": "nominal", "scale": {"domain": ["uncalibrated","conf penalty","temp","vec","aux"], "range": ["#4c72b0","#dd8452","#55a868","#c44e52","#8172b3"]}, "legend": {"title": null, "offset": 10}}
 },
 "layer": [
  {"mark": {"type": "line", "strokeWidth": 1.5}},
  {"transform": [{"filter": "datum.s == 'temp'"}], "mark": {"type": "point", "shape": "M-1,-1L1,1M-1,1L1,-1", "filled": false, "size": 24, "strokeWidth": 1.1, "opacity": 1}},
  {"transform": [{"filter": "datum.s != 'temp'"}], "mark": {"type": "point", "shape": "circle", "filled": true, "size": 23, "opacity": 1}}
 ]
}
]}
]
}
]
}
